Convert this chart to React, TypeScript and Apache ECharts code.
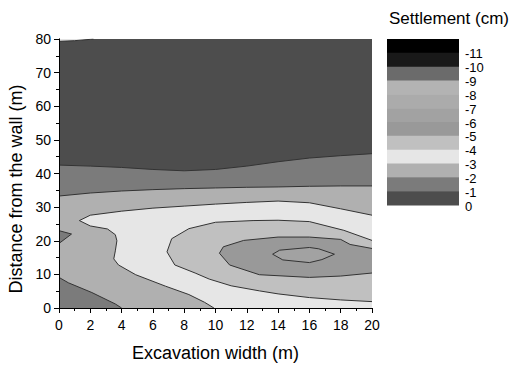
import React, { useEffect, useRef } from "react";
import * as echarts from "echarts";

// Axis ranges / ticks
const xMin = 0, xMax = 20, xStep = 2;
const yMin = 0, yMax = 80, yStep = 10;

// Contour lines, [excavation width (m), distance (m)]
const contourM1 = [[0,42.5],[2,42.2],[4,41.8],[6,41.2],[8,40.8],[10,41.2],[12,42.2],[14,43.5],[16,44.6],[18,45.3],[20,45.9]];
const contourM2 = [[0,33.3],[2,34.2],[4,34.8],[6,35.2],[8,35.5],[10,35.7],[12,35.9],[14,36],[16,36.2],[18,36.3],[20,36.3]];
const contourM3 = [[20,27.6],[18,29.5],[16,31.3],[14,31.8],[12,31.4],[10,30.9],[8,30.3],[6,29.7],[4,28.8],[2,27.6],[1.3,26],[2,24.4],[3.1,23.5],[3.6,21.8],[3.7,20],[3.6,17],[3.5,14.6],[3.8,12.8],[4.9,9.9],[6.8,6.5],[8.3,4],[9.3,1.7],[9.9,0]];
const contourM4 = [[20,20.1],[18.2,23.1],[16,25.7],[14,26.1],[12.4,26],[10,25.5],[8.3,23.6],[7.2,20.6],[6.9,16.7],[7.4,12.8],[8.7,10.4],[9.6,8.6],[11,6.6],[12.8,5.1],[14,4.2],[16,3.1],[18,2.4],[20,1.9]];
const contourM5 = [[20,17.7],[18.6,18.9],[18,20.4],[16,21.1],[14,21.1],[11.8,20.1],[10.5,18.2],[10.25,16.3],[10.9,12.8],[12.8,9.9],[16,9.1],[18,9.5],[20,10.4]];
const contourM6 = [[13.65,16],[14.1,17.2],[16,18],[16.6,17.6],[17.6,16],[16.8,14.4],[16,13.5],[14.3,14.3],[13.65,16]];
const cornerM2 = [[0,9.1],[0.6,7.5],[2.1,4.6],[3.2,2.1],[3.6,1.2],[4,0]];
const notchM2 = [[0,23],[0.8,22],[0,19.2]];
const topSliver = [[0,79.3],[1,79.5],[2,79.9],[2.2,80]];

// Legend
const legendLabels = ["-11","-10","-9","-8","-7","-6","-5","-4","-3","-2","-1","0"];
const legendColors = ["#000000","#191919","#6b6b6b","#b3b3b3","#ababab","#a2a2a2","#999999","#c0c0c0","#e6e6e6","#b0b0b0","#7b7b7b","#4d4d4d"];

const C_0_1 = "#4d4d4d", C_1_2 = "#7b7b7b", C_2_3 = "#b0b0b0", C_3_4 = "#e6e6e6",
  C_4_5 = "#c0c0c0", C_5_6 = "#999999", C_6_7 = "#a2a2a2";

const fills = [
  { poly: [[xMin,yMin],[xMin,yMax],[xMax,yMax],[xMax,yMin]], color: C_0_1 },
  { poly: [[xMin,yMin], ...contourM1, [xMax,yMin]], color: C_1_2 },
  { poly: [[xMin,yMin], ...contourM2, [xMax,yMin]], color: C_2_3 },
  { poly: [...contourM3, [xMax,yMin]], color: C_3_4 },
  { poly: [...contourM4], color: C_4_5 },
  { poly: [...contourM5], color: C_5_6 },
  { poly: [...contourM6], color: C_6_7 },
  { poly: [...cornerM2, [xMin,yMin]], color: C_1_2 },
  { poly: [...notchM2], color: C_1_2 },
  { poly: [[xMin,yMax], ...topSliver], color: "#e4e4e4" },
];

const lines = [contourM1, contourM2, contourM3, contourM4, contourM5, contourM6, cornerM2, notchM2, topSliver];

const FONT = "'Liberation Sans', Arial, sans-serif";

export default function App() {
  const ref = useRef<HTMLDivElement>(null);
  useEffect(() => {
    if (!ref.current) return;
    const chart = echarts.init(ref.current, undefined, { renderer: "svg" });
    const barX = 387, barY = 39, barW = 72, barH = 166;
    const bandH = barH / legendColors.length;
    const graphics: any[] = [];
    legendColors.forEach((c, i) => {
      graphics.push({ type: "rect", left: barX, top: barY + i * bandH, shape: { width: barW, height: bandH + 0.5 }, style: { fill: c }, silent: true });
    });
    legendLabels.forEach((t, i) => {
      graphics.push({ type: "text", x: 465, y: barY + (i + 1) * bandH + 1, style: { text: t, fill: "#000", fontSize: 13, fontFamily: FONT, lineHeight: 13, textAlign: "left", textVerticalAlign: "middle" } });
    });
    graphics.push({ type: "text", x: 449, y: 18, style: { text: "Settlement (cm)", fill: "#000", fontSize: 17, fontFamily: FONT, textAlign: "center", textVerticalAlign: "middle" } });
    graphics.push({ type: "text", x: 16, y: 189, rotation: Math.PI / 2, style: { text: "Distance from the wall (m)", fill: "#000", fontSize: 18, fontFamily: FONT, textAlign: "center", textVerticalAlign: "middle" } });

    const series: any[] = [
      {
        type: "custom",
        coordinateSystem: "cartesian2d",
        data: fills.map((_, i) => [i, 0]),
        clip: true,
        renderItem: (params: any, api: any) => {
          const f = fills[params.dataIndex];
          return { type: "polygon", shape: { points: f.poly.map((p) => api.coord(p)) }, style: { fill: f.color, stroke: null } };
        },
        z: 1,
      },
      ...lines.map((l) => ({
        type: "line",
        data: l,
        showSymbol: false,
        symbol: "none",
        lineStyle: { color: "#333", width: 1 },
        z: 3,
        silent: true,
      })),
    ];

    chart.setOption({
      animation: false,
      grid: { left: 59, right: 138, top: 39, bottom: 53 },
      xAxis: [
        {
          type: "value", min: xMin, max: xMax, interval: xStep,
          name: "Excavation width (m)", nameLocation: "middle", nameGap: 36,
          nameTextStyle: { fontSize: 18, color: "#000", fontFamily: FONT },
          axisLine: { lineStyle: { color: "#000", width: 1 } },
          axisTick: { show: true, length: 5, lineStyle: { color: "#000" } },
          minorTick: { show: true, splitNumber: 2, length: 3, lineStyle: { color: "#000" } },
          axisLabel: { fontSize: 14, color: "#000", fontFamily: FONT, margin: 10 },
          splitLine: { show: false },
          z: 10,
        },
        {
          type: "value", position: "top", min: xMin, max: xMax,
          axisLine: { show: true, lineStyle: { color: "#333" } },
          axisTick: { show: false }, axisLabel: { show: false }, splitLine: { show: false },
        },
      ],
      yAxis: [
        {
          type: "value", min: yMin, max: yMax, interval: yStep,
          axisLine: { show: true, lineStyle: { color: "#000", width: 1 } },
          axisTick: { show: true, length: 5, lineStyle: { color: "#000" } },
          minorTick: { show: true, splitNumber: 2, length: 3, lineStyle: { color: "#000" } },
          axisLabel: { fontSize: 14, color: "#000", fontFamily: FONT, margin: 8 },
          splitLine: { show: false },
          z: 10,
        },
        {
          type: "value", position: "right", min: yMin, max: yMax,
          axisLine: { show: true, lineStyle: { color: "#333" } },
          axisTick: { show: false }, axisLabel: { show: false }, splitLine: { show: false },
        },
      ],
      graphic: graphics,
      series,
    });
    return () => chart.dispose();
  }, []);
  return <div ref={ref} style={{ width: 510, height: 367, position: "absolute", left: 0, top: 0 }} />;
}
